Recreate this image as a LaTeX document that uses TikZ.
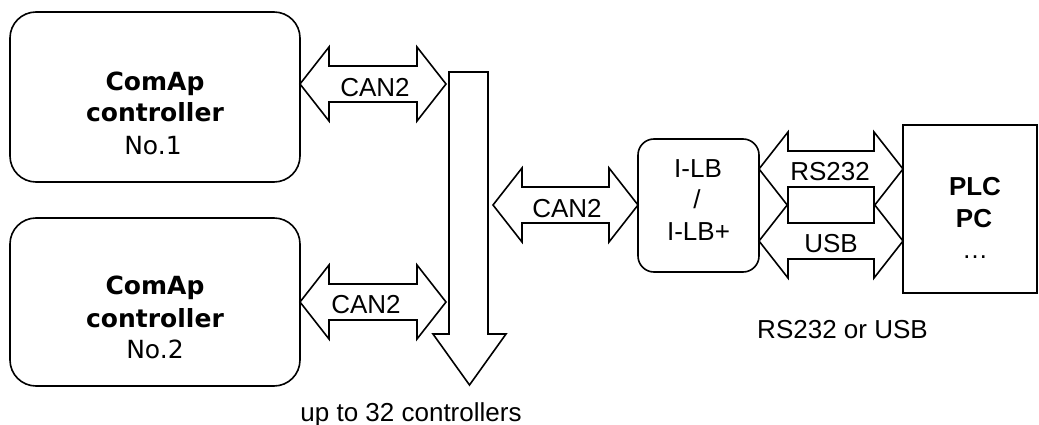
\documentclass[tikz,border=0pt]{standalone}
\usepackage{fontspec}
\setmainfont{Liberation Sans}
\newfontfamily\vfont{DejaVu Sans}
\newcommand\dblblk[3]{%
  \draw[blk] (#1,#3) -- ({#1+29},{#3-37}) -- ({#1+29},{#3-18}) -- ({#2-29},{#3-18})
    -- ({#2-29},{#3-37}) -- (#2,#3) -- ({#2-29},{#3+37}) -- ({#2-29},{#3+18})
    -- ({#1+29},{#3+18}) -- ({#1+29},{#3+37}) -- cycle;}
\tikzset{
  blk/.style={draw=black, line width=1.6pt, fill=white, line join=miter},
  ctrlbox/.style={draw=black, line width=1.6pt, rounded corners=26pt, minimum width=290pt, minimum height=170pt, inner sep=0pt},
  ilbbox/.style={draw=black, line width=1.6pt, rounded corners=16pt, minimum width=121pt, minimum height=133pt, inner sep=0pt},
  plcbox/.style={draw=black, line width=1.6pt, minimum width=134pt, minimum height=168pt, inner sep=0pt},
  vbold/.style={anchor=base, inner sep=0pt, font=\vfont\bfseries\fontsize{25}{30}\selectfont},
  vreg/.style={anchor=base, inner sep=0pt, font=\vfont\fontsize{25}{30}\selectfont},
  atext/.style={anchor=base, inner sep=0pt, font=\fontsize{26}{30}\selectfont},
  abold/.style={anchor=base, inner sep=0pt, font=\bfseries\fontsize{26}{30}\selectfont},
}
\begin{document}
\begin{tikzpicture}[x=1pt, y=-1pt]
\useasboundingbox (0,0) rectangle (1039,425);
% controller boxes
\node[ctrlbox] (c1) at (155,97) {};
\node[ctrlbox, minimum height=168pt] (c2) at (155,302) {};
\node[vbold] (c1a) at (155,91) {ComAp};
\node[vbold] (c1b) at (155,122) {controller};
\node[vreg]  (c1c) at (153,154) {No.1};
\node[vbold] (c2a) at (155,294) {ComAp};
\node[vbold] (c2b) at (155,327) {controller};
\node[vreg]  (c2c) at (155,358) {No.2};
% bus arrow
\draw[blk] (449,72) -- (488,72) -- (488,334) -- (506,334) -- (469.5,385) -- (433,334) -- (449,334) -- cycle;
\node[atext] (bustxt) at (411,421) {up to 32 controllers};
% CAN2 arrows
\dblblk{300}{446}{84}
\node[atext] (can1) at (375,97) {CAN2};
\dblblk{300}{446}{302}
\node[atext] (can2) at (366,313) {CAN2};
\dblblk{493}{638}{205}
\node[atext] (can3) at (567,217) {CAN2};
% I-LB box
\node[ilbbox] (ilb) at (698.5,205.5) {};
\node[atext] (ilba) at (698,178) {I-LB};
\node[atext] (ilbb) at (697,208) {/};
\node[atext] (ilbc) at (698.5,240) {I-LB+};
% RS232 / USB arrows
\dblblk{759}{903}{169}
\dblblk{759}{903}{241}
\node[atext] (rs) at (830,181) {RS232};
\node[atext] (usb) at (831,252) {USB};
\node[atext] (rsusb) at (842.5,338) {RS232 or USB};
% PLC box
\node[plcbox] (plc) at (970,209) {};
\node[abold] (plca) at (975,195) {PLC};
\node[abold] (plcb) at (974,227) {PC};
\node[atext] (plcc) at (975,258) {\dots};
\end{tikzpicture}
\end{document}
